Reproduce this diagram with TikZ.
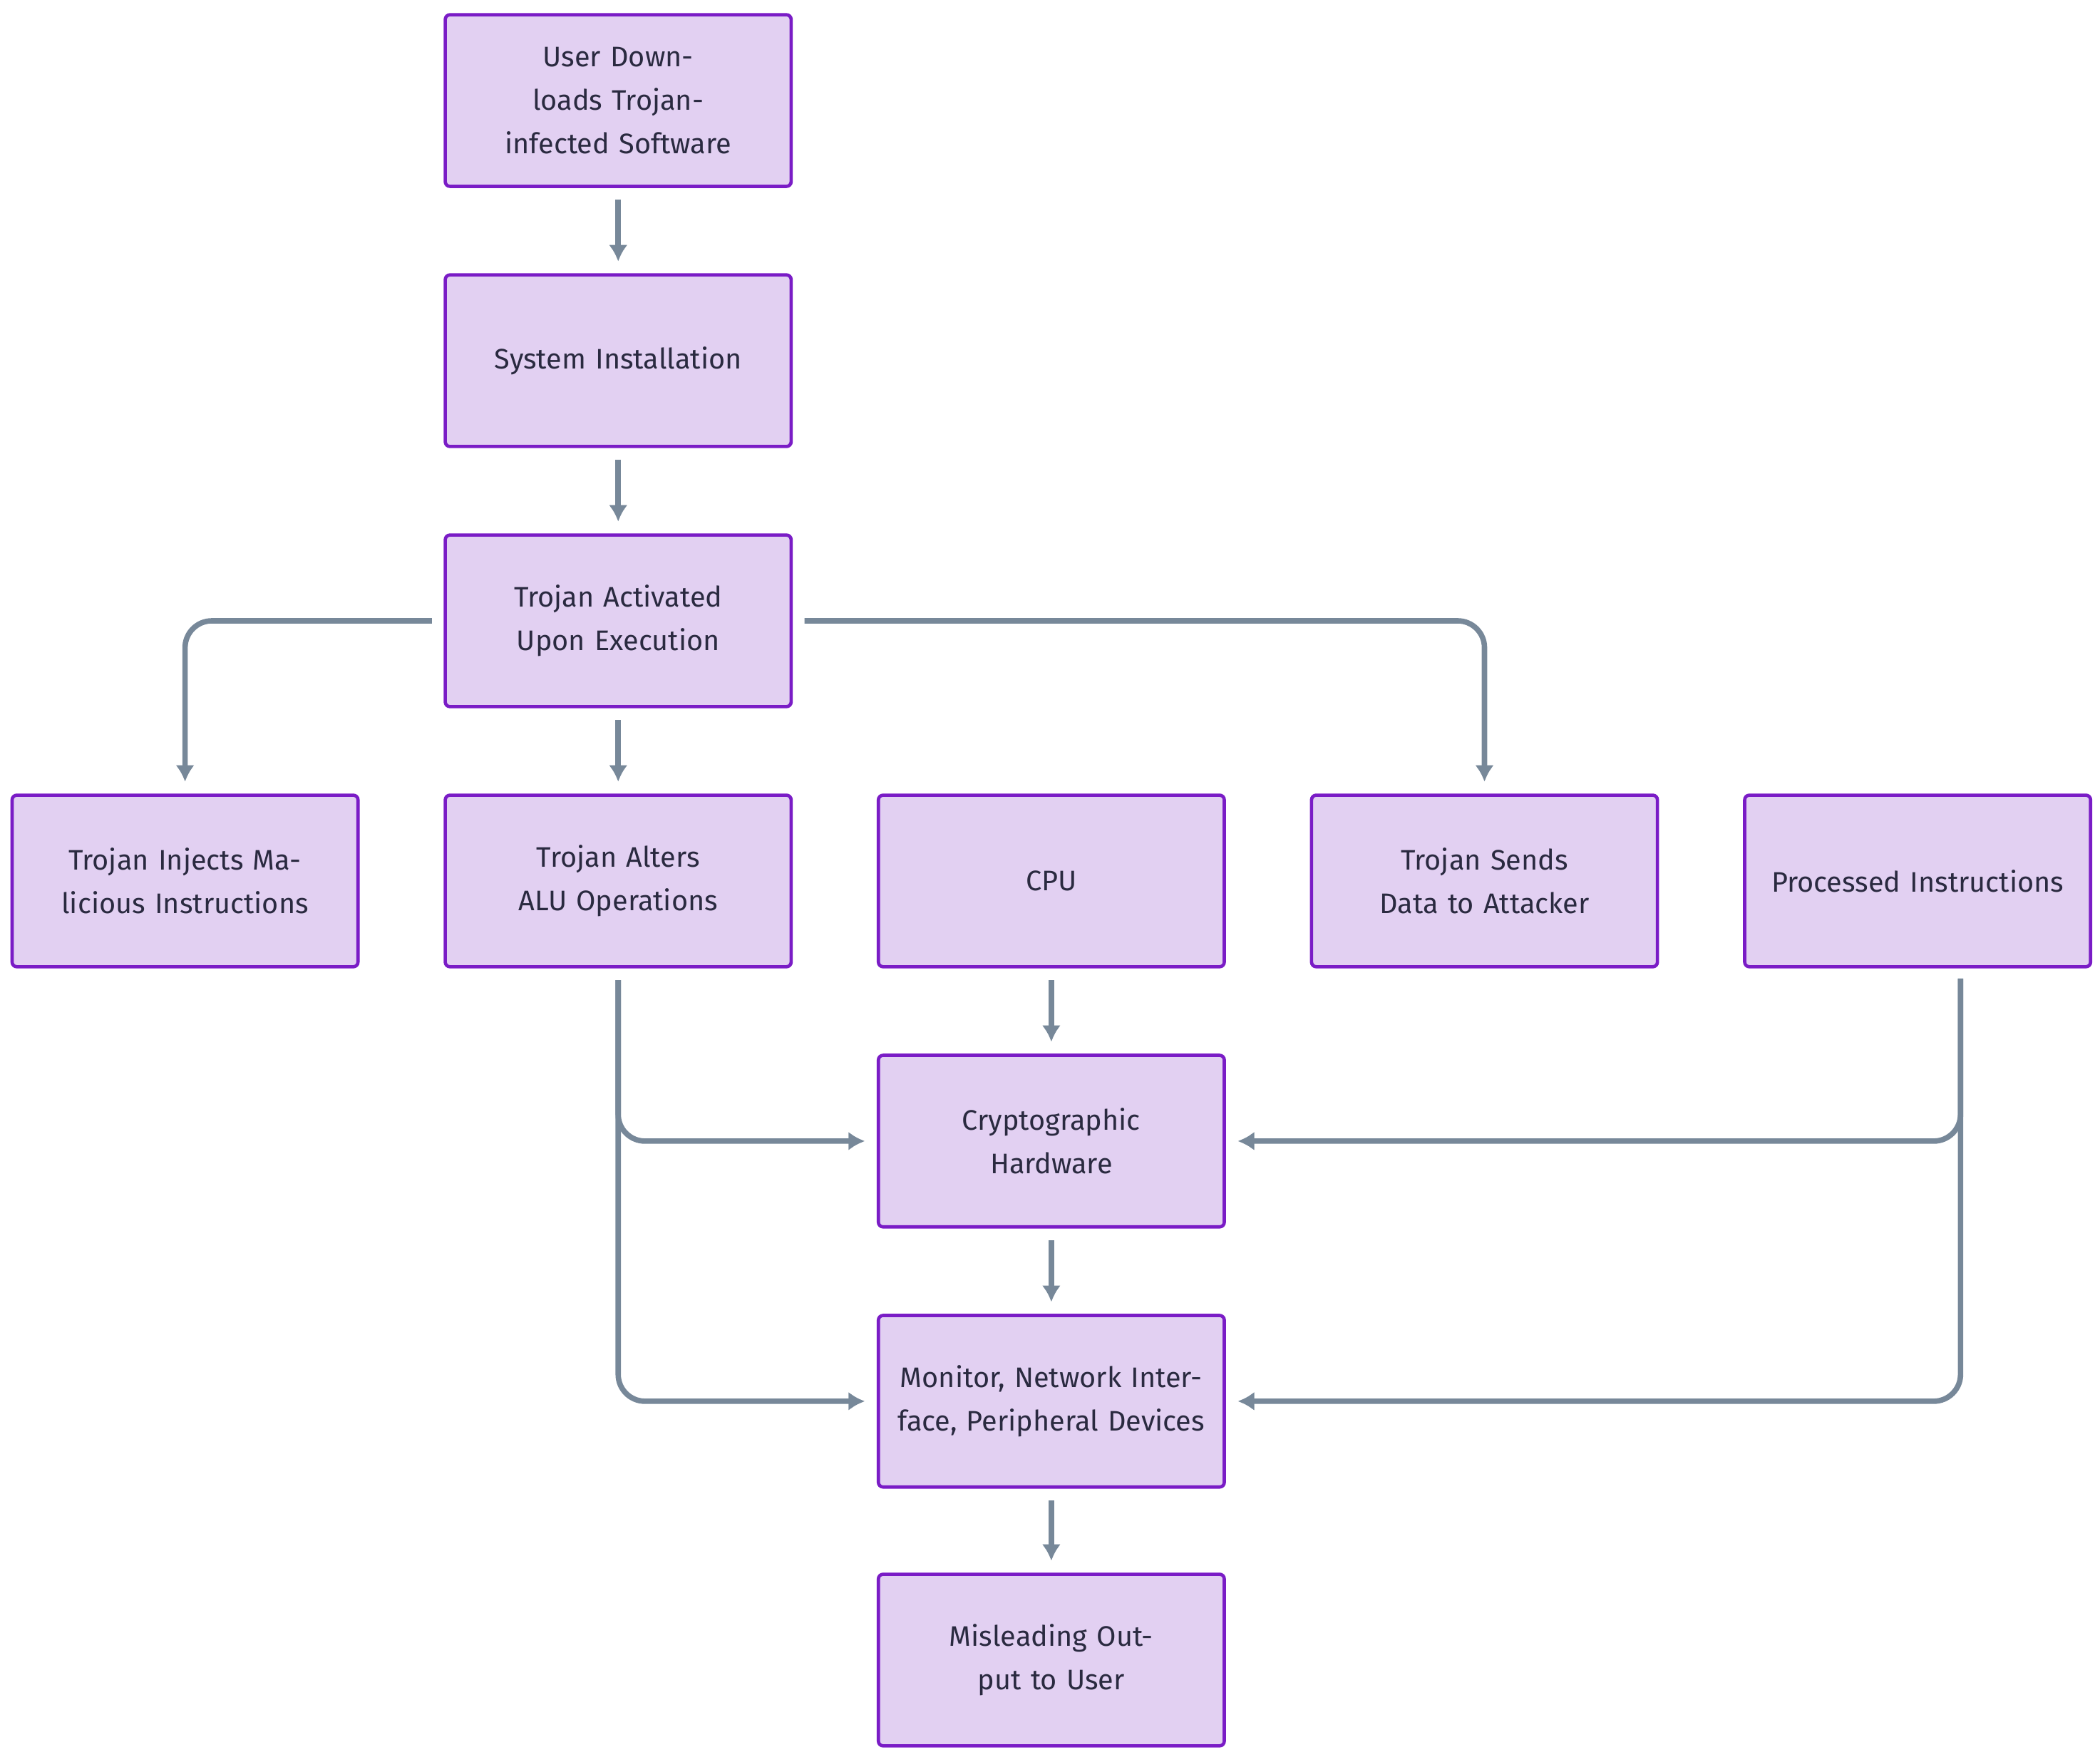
\documentclass[tikz,border=0pt]{standalone}
\usepackage{fontspec}
\setmainfont{Fira Sans}
\definecolor{boxfill}{HTML}{E2D0F2}
\definecolor{boxline}{HTML}{7A1CC6}
\definecolor{flowgray}{HTML}{778899}
\definecolor{txt}{HTML}{2A2A40}
\usetikzlibrary{arrows.meta}
\tikzset{
  stage/.style={draw=boxline, fill=boxfill, line width=1.4pt, rounded corners=2pt,
    minimum width=5.16cm, minimum height=2.56cm, align=center, text width=4.6cm,
    font=\fontsize{12}{18.5}\selectfont, text=txt},
  flow/.style={draw=flowgray, line width=2.3pt, rounded corners=0.4cm, -{Latex[length=7pt,width=8pt]}}
}
\begin{document}
\begin{tikzpicture}[x=0.02cm, y=-0.02cm]
\useasboundingbox (0,0) rectangle (1566,1310);
% main column
\node[stage] (download) at (461,75) {User Downloads Trojan-infected Software};
\node[stage] (install) at (461,269) {System Installation};
\node[stage] (activate) at (461,463) {Trojan Activated Upon Execution};
% middle row
\node[stage] (inject) at (138,657) {Trojan Injects Malicious Instructions};
\node[stage] (alu) at (461,657) {Trojan Alters ALU Operations};
\node[stage] (cpu) at (784,657) {CPU};
\node[stage] (send) at (1107,657) {Trojan Sends Data to Attacker};
\node[stage] (processed) at (1430,657) {Processed Instructions};
% lower column
\node[stage] (crypto) at (784,851) {Cryptographic Hardware};
\node[stage] (monitor) at (784,1045) {Monitor, Network Interface, Peripheral Devices};
\node[stage] (output) at (784,1238) {Misleading Output to User};
\coordinate (procout) at (1462,721);

\draw[flow, shorten <=5pt, shorten >=5pt] (download) -- (install);
\draw[flow, shorten <=5pt, shorten >=5pt] (install) -- (activate);
\draw[flow, shorten <=5pt, shorten >=5pt] (activate) -- (alu);
\draw[flow, shorten <=5pt, shorten >=5pt] (activate.west) -| (inject.north);
\draw[flow, shorten <=5pt, shorten >=5pt] (activate.east) -| (send.north);
\draw[flow, shorten <=5pt, shorten >=5pt] (cpu) -- (crypto);
\draw[flow, shorten <=5pt, shorten >=5pt] (crypto) -- (monitor);
\draw[flow, shorten <=5pt, shorten >=5pt] (monitor) -- (output);
\draw[flow, shorten <=5pt, shorten >=5pt] (alu.south) |- (crypto.west);
\draw[flow, shorten <=5pt, shorten >=5pt] (alu.south) |- (monitor.west);
\draw[flow, shorten <=5pt, shorten >=5pt] (procout) |- (crypto.east);
\draw[flow, shorten <=5pt, shorten >=5pt] (procout) |- (monitor.east);
\end{tikzpicture}
\end{document}
